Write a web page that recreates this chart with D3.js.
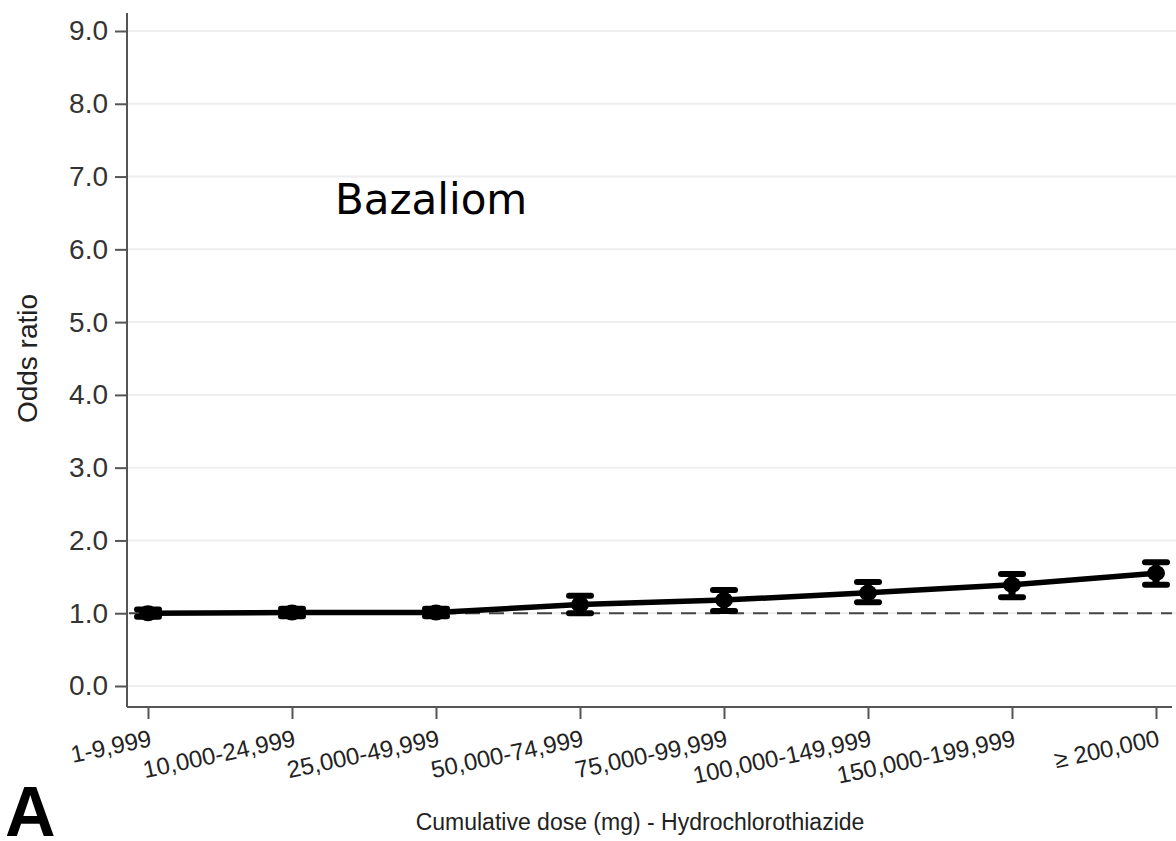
<!DOCTYPE html>
<html>
<head>
<meta charset="utf-8">
<script src="https://cdn.jsdelivr.net/npm/d3@7/dist/d3.min.js"></script>
<style>
  html, body { margin: 0; padding: 0; background: #fff; }
  svg { display: block; }
</style>
</head>
<body>
<svg id="chart" width="1176" height="841"></svg>
<script>
// Cumulative hydrochlorothiazide dose categories (mg)
const categories = ["1-9,999", "10,000-24,999", "25,000-49,999", "50,000-74,999",
                    "75,000-99,999", "100,000-149,999", "150,000-199,999", "\u2265 200,000"];
// Odds ratio estimates with 95% confidence limits
const oddsRatio = [1.00, 1.01, 1.01, 1.12, 1.18, 1.28, 1.39, 1.55];
const ciLower   = [0.95, 0.96, 0.96, 1.00, 1.03, 1.15, 1.22, 1.39];
const ciUpper   = [1.05, 1.06, 1.06, 1.24, 1.32, 1.43, 1.54, 1.70];
const yTicks    = [0, 1, 2, 3, 4, 5, 6, 7, 8, 9];
const referenceOR = 1.0;

const svg = d3.select("#chart");
const x = d3.scalePoint().domain(categories).range([148, 1156]);
const y = d3.scaleLinear().domain([0, 9]).range([686, 31]);

const axisColor = "#555";
const font = "'Liberation Sans', Arial, sans-serif";
const xLeft = x.range()[0] - 21, xRight = x.range()[1] + 16;
const yBottom = y(0) + 21;

// horizontal gridlines
svg.append("g").selectAll("line").data(yTicks).join("line")
  .attr("x1", xLeft + 1).attr("x2", 1176)
  .attr("y1", d => y(d)).attr("y2", d => y(d))
  .attr("stroke", "#eeeeee").attr("stroke-width", 2);

// y axis
const gy = svg.append("g").attr("transform", `translate(${xLeft},0)`)
  .call(d3.axisLeft(y).tickValues(yTicks).tickFormat(d3.format(".1f"))
          .tickSize(12).tickPadding(7));
gy.select(".domain").remove();
gy.selectAll(".tick line").attr("stroke", axisColor).attr("stroke-width", 2);
gy.selectAll(".tick text").attr("font-family", font).attr("font-size", 28)
  .attr("fill", "#333");
svg.append("line").attr("x1", xLeft).attr("x2", xLeft)
  .attr("y1", y(9) - 18).attr("y2", yBottom)
  .attr("stroke", axisColor).attr("stroke-width", 2);

// x axis
const gx = svg.append("g").attr("transform", `translate(0,${yBottom})`)
  .call(d3.axisBottom(x).tickSize(12).tickPadding(0));
gx.select(".domain").remove();
gx.selectAll(".tick line").attr("stroke", axisColor).attr("stroke-width", 2);
gx.selectAll(".tick text")
  .attr("font-family", font).attr("font-size", 24).attr("fill", "#222")
  .attr("text-anchor", "end").attr("dy", 0).attr("y", 0)
  .attr("transform", "translate(4,39) rotate(-12)");
svg.append("line").attr("x1", xLeft).attr("x2", xRight)
  .attr("y1", yBottom).attr("y2", yBottom)
  .attr("stroke", axisColor).attr("stroke-width", 2);

// reference line at OR = 1
svg.append("line")
  .attr("x1", xLeft + 2).attr("x2", xRight)
  .attr("y1", y(referenceOR)).attr("y2", y(referenceOR))
  .attr("stroke", "#444").attr("stroke-width", 2)
  .attr("stroke-dasharray", "15,9");

// trend line through estimates
const pts = categories.map((c, i) => ({c, or: oddsRatio[i], lo: ciLower[i], hi: ciUpper[i]}));
svg.append("path").datum(pts)
  .attr("d", d3.line().x(d => x(d.c)).y(d => y(d.or)))
  .attr("fill", "none").attr("stroke", "#000").attr("stroke-width", 5.5)
  .attr("stroke-linejoin", "round");

// confidence intervals
const eb = svg.append("g").selectAll("g").data(pts).join("g");
eb.append("line")
  .attr("x1", d => x(d.c)).attr("x2", d => x(d.c))
  .attr("y1", d => y(d.lo)).attr("y2", d => y(d.hi))
  .attr("stroke", "#000").attr("stroke-width", 7);
eb.selectAll("line.cap").data(d => [[d.c, d.lo], [d.c, d.hi]]).join("line")
  .attr("class", "cap")
  .attr("x1", d => x(d[0]) - 11).attr("x2", d => x(d[0]) + 11)
  .attr("y1", d => y(d[1])).attr("y2", d => y(d[1]))
  .attr("stroke", "#000").attr("stroke-width", 6).attr("stroke-linecap", "round");
eb.append("ellipse")
  .attr("cx", d => x(d.c)).attr("cy", d => y(d.or)).attr("rx", 9).attr("ry", 8)
  .attr("fill", "#000");

// axis titles
svg.append("text")
  .attr("transform", `translate(37,${y(4.5)}) rotate(-90)`)
  .attr("text-anchor", "middle")
  .attr("font-family", font).attr("font-size", 28).attr("fill", "#222")
  .text("Odds ratio");
svg.append("text")
  .attr("x", 640).attr("y", 830)
  .attr("text-anchor", "middle")
  .attr("font-family", font).attr("font-size", 23).attr("fill", "#222")
  .text("Cumulative dose (mg) - Hydrochlorothiazide");

// panel annotations
svg.append("text")
  .attr("x", 335).attr("y", 214)
  .attr("font-family", "'DejaVu Sans', Verdana, sans-serif").attr("font-size", 42)
  .attr("fill", "#000")
  .text("Bazaliom");
svg.append("text")
  .attr("x", 5).attr("y", 836)
  .attr("font-family", font).attr("font-size", 70).attr("font-weight", "bold")
  .attr("fill", "#000")
  .text("A");
</script>
</body>
</html>
